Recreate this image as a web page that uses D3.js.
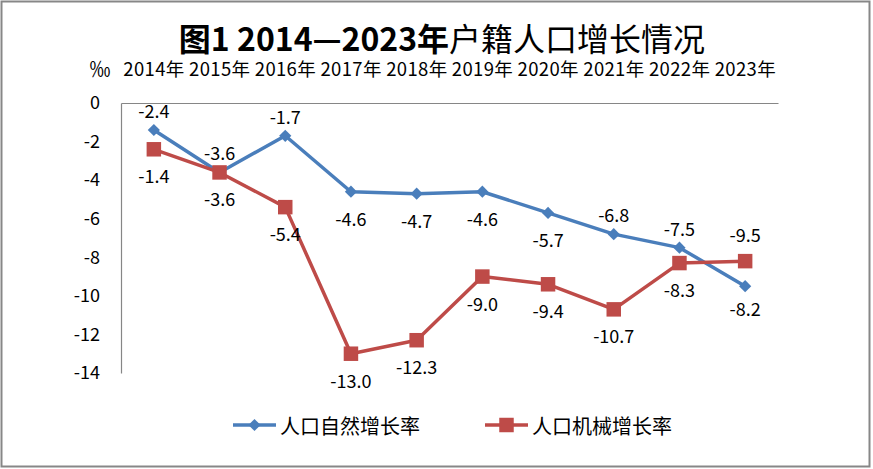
<!DOCTYPE html>
<html>
<head>
<meta charset="utf-8">
<script src="https://cdn.jsdelivr.net/npm/d3@7"></script>
<style>
  body { margin: 0; background: #fff; }
  text { font-family: "Noto Sans CJK SC", "Noto Sans", sans-serif; fill: #000; }
</style>
</head>
<body>
<svg id="chart"></svg>
<script>
var screen = {width: 873, height: 469}
var margins = {top: 103, right: 95, bottom: 96, left: 121}

// data
var years = ["2014年","2015年","2016年","2017年","2018年","2019年","2020年","2021年","2022年","2023年"]
var naturalRate = [-1.4, -3.6, -1.7, -4.6, -4.7, -4.6, -5.7, -6.8, -7.5, -9.5]
var migrationRate = [-2.4, -3.6, -5.4, -13.0, -12.3, -9.0, -9.4, -10.7, -8.3, -8.2]
// label texts as printed on the chart
var naturalLabels = ["-2.4","-3.6","-1.7","-4.6","-4.7","-4.6","-5.7","-6.8","-7.5","-9.5"]
var migrationLabels = ["-1.4","-3.6","-5.4","-13.0","-12.3","-9.0","-9.4","-10.7","-8.3","-8.2"]
// where each label sits: above/below its own point, or above/below both points
var naturalPlace = ["above","above","above","below","below","below","below","above","above","top"]
var migrationPlace = ["below","below","below","below","below","below","below","below","below","bottom"]
var yTicks = [0, -2, -4, -6, -8, -10, -12, -14]
var seriesNames = ["人口自然增长率", "人口机械增长率"]
var colors = ["#4A7EBB", "#BE4B48"]

var svg = d3.select("#chart")
  .attr("width", screen.width)
  .attr("height", screen.height)

// outer frame
svg.append("rect")
  .attr("x", 1.5).attr("y", 1.5)
  .attr("width", screen.width - 5).attr("height", screen.height - 4)
  .attr("fill", "none")
  .attr("stroke", "#878787")
  .attr("stroke-width", 2)

var width = screen.width - margins.left - margins.right
var height = screen.height - margins.top - margins.bottom

var xScale = d3.scaleBand()
  .domain(years)
  .range([margins.left, margins.left + width])
var xc = function(i) { return xScale(years[i]) + xScale.bandwidth() / 2 }

var yScale = d3.scaleLinear()
  .domain([-14, 0])
  .range([margins.top + height, margins.top])

// title
var title = svg.append("text")
  .attr("x", 442)
  .attr("y", 51)
  .attr("text-anchor", "middle")
  .style("font-size", "32px")
title.append("tspan").attr("font-weight", "bold").text("图1 2014—2023年")
title.append("tspan").text("户籍人口增长情况")

// unit
svg.append("text")
  .attr("x", 100)
  .attr("y", 76)
  .attr("text-anchor", "middle")
  .style("font-size", "21px")
  .text("‰")

// axes
var yAxis = d3.axisLeft(yScale).tickValues(yTicks).tickSize(0).tickPadding(21)
  .tickFormat(d3.format("d"))
var xAxis = d3.axisTop(xScale).tickSize(0).tickPadding(27)

svg.append("g")
  .attr("transform", "translate(" + margins.left + ",0)")
  .call(yAxis)
  .call(function(g) {
    g.select(".domain").attr("stroke", "#868686").attr("stroke-width", 1.2)
    g.selectAll("text").style("font-size", "18px").attr("fill", "#000")
      .text(function(d) { return d === 0 ? "0" : "-" + Math.abs(d) })
  })

svg.append("g")
  .attr("transform", "translate(0," + margins.top + ")")
  .call(xAxis)
  .call(function(g) {
    g.select(".domain").attr("stroke", "#868686").attr("stroke-width", 1.2)
    g.selectAll("text").style("font-size", "18.5px").attr("fill", "#000")
      .attr("textLength", 61).attr("lengthAdjust", "spacing")
  })

var series = [
  {name: seriesNames[0], values: naturalRate, labels: naturalLabels, place: naturalPlace, color: colors[0], marker: d3.symbolDiamond2},
  {name: seriesNames[1], values: migrationRate, labels: migrationLabels, place: migrationPlace, color: colors[1], marker: d3.symbolSquare}
]

var line = d3.line()
  .x(function(v, i) { return xc(i) })
  .y(function(v) { return yScale(v) })

var markerPath = function(s) {
  return s.marker === d3.symbolSquare
    ? d3.symbol().type(d3.symbolSquare).size(210)()
    : d3.symbol().type(d3.symbolDiamond2).size(95)()
}

series.forEach(function(s) {
  svg.append("path")
    .datum(s.values)
    .attr("d", line)
    .attr("fill", "none")
    .attr("stroke", s.color)
    .attr("stroke-width", 3.5)
    .attr("stroke-linejoin", "round")
})

series.forEach(function(s) {
  svg.append("g").selectAll("path")
    .data(s.values)
    .enter()
    .append("path")
    .attr("d", markerPath(s))
    .attr("transform", function(v, i) { return "translate(" + xc(i) + "," + yScale(v) + ")" })
    .attr("fill", s.color)
})

var labelY = function(s, i) {
  var own = yScale(s.values[i])
  var a = yScale(naturalRate[i]), b = yScale(migrationRate[i])
  if (s.place[i] === "above") return own - 20
  if (s.place[i] === "below") return own + 26
  if (s.place[i] === "top") return Math.min(a, b) - 27
  return Math.max(a, b) + 22
}

series.forEach(function(s) {
  svg.append("g").selectAll("text")
    .data(s.labels)
    .enter()
    .append("text")
    .attr("x", function(t, i) { return xc(i) })
    .attr("y", function(t, i) { return labelY(s, i) })
    .attr("text-anchor", "middle")
    .attr("dominant-baseline", "central")
    .style("font-size", "18px")
    .text(function(t) { return t })
})

// legend
var legendX = [233, 485]
series.forEach(function(s, i) {
  var g = svg.append("g").attr("transform", "translate(" + legendX[i] + ",425)")
  g.append("line")
    .attr("x1", 0).attr("x2", 43)
    .attr("stroke", s.color).attr("stroke-width", 3.5)
  g.append("path")
    .attr("d", markerPath(s))
    .attr("transform", "translate(21.5,0)")
    .attr("fill", s.color)
  g.append("text")
    .attr("x", 47)
    .attr("dominant-baseline", "central")
    .style("font-size", "20px")
    .text(s.name)
})
</script>
</body>
</html>
